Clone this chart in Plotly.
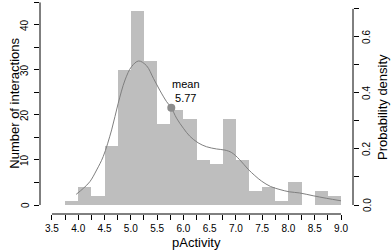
import plotly.graph_objects as go

# Histogram data (bins of width 0.25 from 3.5 to 9.0)
bin_starts = [3.5, 3.75, 4.0, 4.25, 4.5, 4.75, 5.0, 5.25, 5.5, 5.75, 6.0,
              6.25, 6.5, 6.75, 7.0, 7.25, 7.5, 7.75, 8.0, 8.25, 8.5, 8.75]
counts = [0, 1, 4, 2, 13, 30, 43, 32, 18, 21, 19,
          10, 9, 19, 10, 3, 4, 1, 5, 0, 3, 2]
bin_width = 0.25

# Density curve
dens_x = [3.96, 4.1, 4.22, 4.35, 4.475, 4.635, 4.76, 4.89, 5.015, 5.15, 5.3,
          5.43, 5.55, 5.68, 5.77, 5.87, 6.0, 6.12, 6.28, 6.44, 6.63, 6.79,
          6.92, 7.07, 7.23, 7.36, 7.49, 7.66, 7.84, 8.02, 8.21, 8.47, 8.72, 9.0]
dens_y = [0.038, 0.06, 0.083, 0.125, 0.173, 0.268, 0.363, 0.446, 0.494, 0.514, 0.497,
          0.452, 0.41, 0.369, 0.347, 0.31, 0.274, 0.246, 0.222, 0.208, 0.20, 0.196,
          0.187, 0.162, 0.128, 0.105, 0.085, 0.066, 0.055, 0.047, 0.043, 0.033, 0.024, 0.015]

mean_val = 5.77
mean_dens = 0.347

x_ticks = [3.5 + 0.25 * i for i in range(23)]
x_labels = [f"{v:.1f}" if abs((v * 2) - round(v * 2)) < 1e-9 else "" for v in x_ticks]
y_ticks = [0, 5, 10, 15, 20, 25, 30, 35, 40, 45]
y_labels = ["0", "", "10", "", "20", "", "30", "", "40", ""]
y2_ticks = [0, 0.1, 0.2, 0.3, 0.4, 0.5, 0.6, 0.7]
y2_labels = ["0.0", "", "0.2", "", "0.4", "", "0.6", ""]

N = sum(counts)
scale = N * bin_width
y_lo, y_hi = -2, 45.1

FONT = "Liberation Sans, Arial, Helvetica, sans-serif"

fig = go.Figure()
fig.add_trace(go.Bar(
    x=[b + bin_width / 2 for b in bin_starts], y=counts, width=bin_width,
    marker=dict(color="#bebebe", line=dict(width=0)), showlegend=False,
    hoverinfo="skip"))
fig.add_trace(go.Scatter(
    x=dens_x, y=dens_y, yaxis="y2", mode="lines", line=dict(color="#7f7f7f", width=1, shape="spline"),
    showlegend=False))
fig.add_trace(go.Scatter(
    x=[mean_val], y=[mean_dens], yaxis="y2", mode="markers",
    marker=dict(color="#8c8c8c", size=8), showlegend=False))

annotations = [
    dict(text="mean<br>5.77", x=mean_val, y=mean_dens, xref="x", yref="y2",
         xanchor="center", yanchor="middle",
         showarrow=False, xshift=15, yshift=17, font=dict(size=11)),
    dict(text="pActivity", x=6.25, y=0, xref="x", yref="paper", showarrow=False,
         xanchor="center", yanchor="middle", yshift=-28, font=dict(size=13)),
    dict(text="Number of interactions", x=0, y=22.5, xref="paper", yref="y",
         xanchor="center", yanchor="middle",
         showarrow=False, xshift=-25, textangle=-90, font=dict(size=13)),
    dict(text="Probability density", x=1, y=0.35, xref="paper", yref="y2",
         xanchor="center", yanchor="middle",
         showarrow=False, xshift=30, textangle=-90, font=dict(size=13)),
]
# rotated y tick labels (R style), placed on the axes' own scales
for v, lab in zip(y_ticks, y_labels):
    if lab:
        annotations.append(dict(text=lab, x=0, y=v, xref="paper", yref="y",
                                xanchor="center", yanchor="middle", showarrow=False,
                                xshift=-15, textangle=-90, font=dict(size=10)))
for v, lab in zip(y2_ticks, y2_labels):
    if lab:
        annotations.append(dict(text=lab, x=1, y=v, xref="paper", yref="y2",
                                xanchor="center", yanchor="middle", showarrow=False,
                                xshift=14, textangle=-90, font=dict(size=10)))

fig.update_layout(
    width=391, height=252,
    margin=dict(l=40, r=38, t=2, b=38),
    plot_bgcolor="white", paper_bgcolor="white",
    font=dict(family=FONT, size=10, color="black"),
    bargap=0,
    xaxis=dict(range=[3.272, 9.228], tickvals=x_ticks, ticktext=x_labels,
               ticks="outside", ticklen=5, tickcolor="black", tickwidth=1,
               showline=False, showgrid=False, zeroline=False,
               tickfont=dict(size=10)),
    yaxis=dict(range=[y_lo, y_hi], tickvals=y_ticks, showticklabels=False,
               ticks="outside", ticklen=5, tickcolor="black", tickwidth=1,
               showline=False, showgrid=False, zeroline=False),
    yaxis2=dict(range=[y_lo / scale, y_hi / scale], overlaying="y", side="right",
                tickvals=y2_ticks, showticklabels=False,
                ticks="outside", ticklen=5, tickcolor="black", tickwidth=1,
                showline=False, showgrid=False, zeroline=False),
    shapes=[
        dict(type="line", xref="x", yref="paper", x0=3.5, x1=9.0, y0=0, y1=0,
             line=dict(color="black", width=1)),
        dict(type="line", xref="paper", yref="y", x0=0, x1=0, y0=0, y1=45,
             line=dict(color="black", width=1)),
        dict(type="line", xref="paper", yref="y2", x0=1, x1=1, y0=0, y1=0.7,
             line=dict(color="black", width=1)),
    ],
    annotations=annotations,
)

fig.write_html("out.html", config={"displayModeBar": False},
               post_script="document.body.style.margin='0';")
